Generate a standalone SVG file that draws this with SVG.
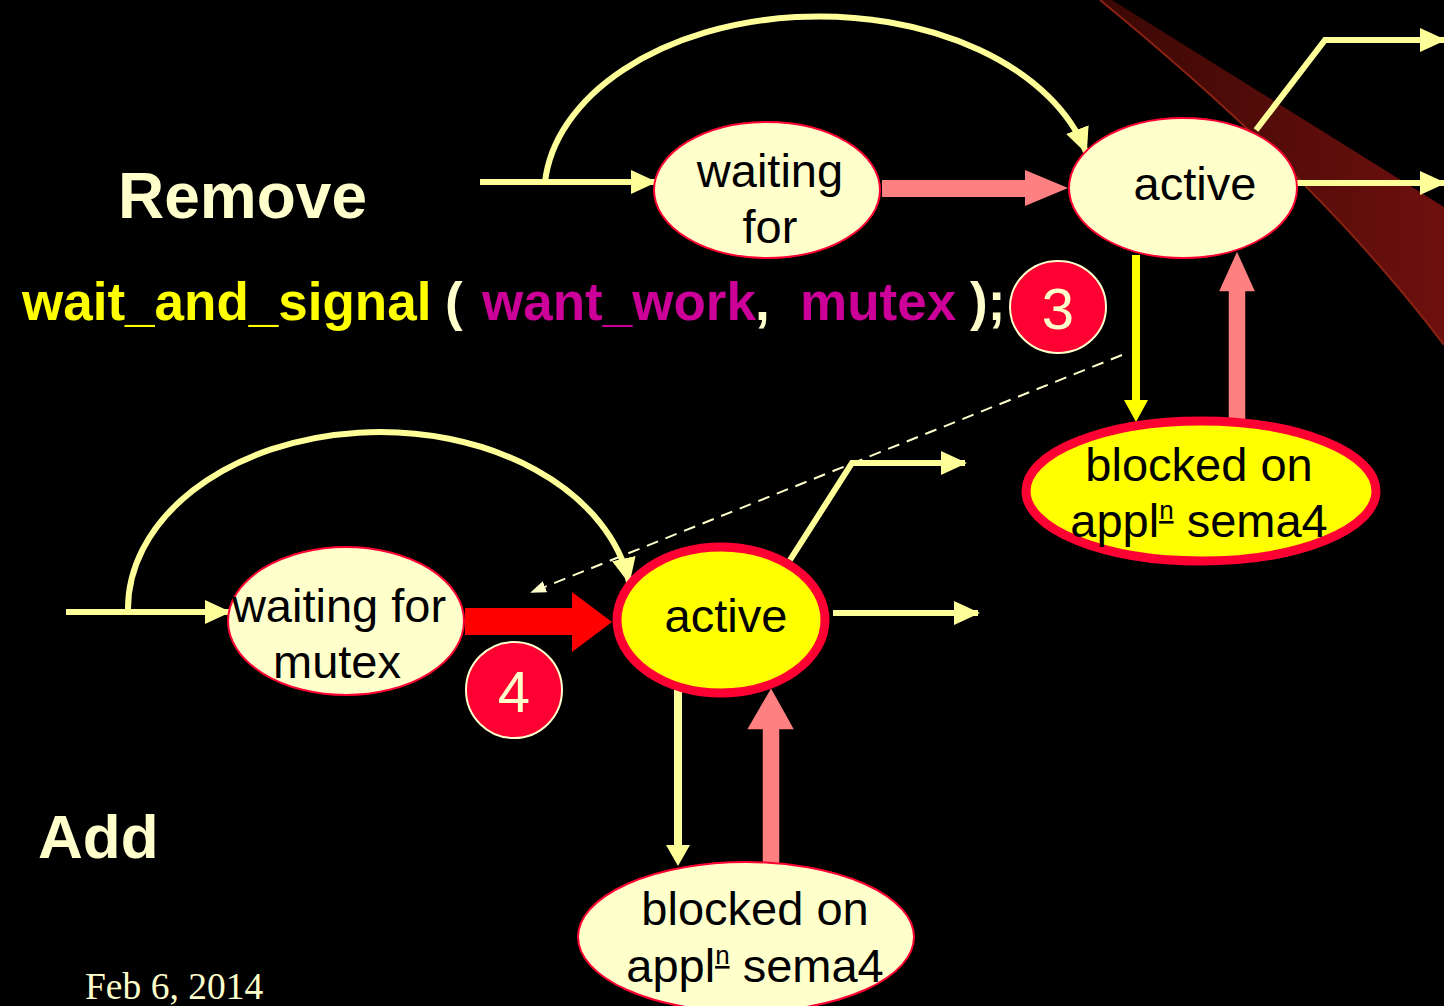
<svg xmlns="http://www.w3.org/2000/svg" width="1444" height="1006" viewBox="0 0 1444 1006">
<defs>
<linearGradient id="swoosh" x1="1100" y1="0" x2="1444" y2="0" gradientUnits="userSpaceOnUse">
<stop offset="0" stop-color="#3a0804"/>
<stop offset="1" stop-color="#6e100e"/>
</linearGradient>
<marker id="ah" markerUnits="userSpaceOnUse" markerWidth="26" markerHeight="26" viewBox="0 0 26 26" refX="24" refY="13" orient="auto">
<path d="M0,1 L26,13 L0,25 Z" fill="#ffff99"/>
</marker>
<marker id="ahs" markerUnits="userSpaceOnUse" markerWidth="16" markerHeight="16" viewBox="0 0 16 16" refX="14" refY="8" orient="auto">
<path d="M0,2 L16,8 L0,14 Z" fill="#ffffcc"/>
</marker>
</defs>
<style>
.ln{fill:none;stroke:#ffff99;stroke-width:6}
.lnb{fill:none;stroke:#ffff99;stroke-width:6;marker-end:url(#ah)}
.lt{fill:#ffffcc;stroke:#ff0033;stroke-width:2}
.hv{fill:#ffff00;stroke:#ff0033;stroke-width:9}
.nt{font-family:"Liberation Sans",Arial,sans-serif;font-size:47px;fill:#000;text-anchor:middle}
.num{fill:#ff0033;stroke:#ffffcc;stroke-width:2}
.numt{font-family:"Liberation Sans",Arial,sans-serif;font-size:58px;fill:#ffffcc;text-anchor:middle}
.bt{font-family:"Liberation Sans",Arial,sans-serif;font-weight:bold}
</style>
<rect width="1444" height="1006" fill="#000"/>
<g id="swoosh-deco">
<path d="M1100,0 L1112,0 L1444,207 L1444,345 Q1320,180 1100,0 Z" fill="url(#swoosh)"/>
<path d="M1444,345 Q1320,180 1100,0" fill="none" stroke="#8a2214" stroke-width="2"/>
</g>
<g id="connectors">
<path class="lnb" d="M480,182 L655,182"/>
<path class="lnb" d="M545,182 A275,179 0 0 1 1086,152"/>
<polygon points="882,180 1025,180 1025,170 1068,188 1025,206 1025,197 882,197" fill="#ff8080"/>
<path class="lnb" d="M1297,183 L1444,183"/>
<path class="lnb" d="M1256,130 L1325,40 L1444,40"/>
<line x1="1136" y1="255" x2="1136" y2="402" stroke="#ffff00" stroke-width="8"/>
<polygon points="1124,400 1148,400 1136,422" fill="#ffff00"/>
<polygon points="1228,420 1228,292 1218,292 1237,250 1256,292 1246,292 1246,420" fill="#ff8080" stroke="#000" stroke-width="1.5"/>
<path d="M1122,355 L532,592" fill="none" stroke="#ffffcc" stroke-width="2" stroke-dasharray="12,8" marker-end="url(#ahs)"/>
<path class="lnb" d="M66,612 L229,612"/>
<path class="lnb" d="M128,612 A252,177 0 0 1 629,582"/>
<polygon points="465,608 572,608 572,592 612,622 572,652 572,635 465,635" fill="#ff0000"/>
<path class="lnb" d="M833,613 L978,613"/>
<path class="lnb" d="M790,560 L852,463 L965,463"/>
<line x1="678" y1="687" x2="678" y2="846" stroke="#ffff99" stroke-width="8"/>
<polygon points="666,845 690,845 678,866" fill="#ffff99"/>
<polygon points="762,865 762,730 746,730 771,687 795,730 780,730 780,865" fill="#ff8080" stroke="#000" stroke-width="1.5"/>
</g>
<g id="node-waiting-for">
<ellipse class="lt" cx="767" cy="190" rx="113" ry="68"/>
<text class="nt" x="770" y="187">waiting</text>
<text class="nt" x="770" y="243">for</text>
</g>
<g id="node-active-top">
<ellipse class="lt" cx="1183" cy="188" rx="114" ry="70"/>
<text class="nt" x="1195" y="200">active</text>
</g>
<g id="node-blocked-top">
<ellipse class="hv" cx="1201" cy="491" rx="175" ry="70"/>
<text class="nt" x="1199" y="481">blocked on</text>
<text class="nt" x="1199" y="537">appl<tspan font-size="26" dy="-18" text-decoration="underline">n</tspan><tspan dy="18"> sema4</tspan></text>
</g>
<g id="badge-3">
<ellipse class="num" cx="1058" cy="307" rx="48" ry="46"/>
<text class="numt" x="1058" y="329">3</text>
</g>
<g id="node-waiting-mutex">
<ellipse class="lt" cx="346" cy="621" rx="118" ry="74"/>
<text class="nt" x="339" y="622">waiting for</text>
<text class="nt" x="337" y="678">mutex</text>
</g>
<g id="node-active-bottom">
<ellipse class="hv" cx="721" cy="620" rx="104" ry="73"/>
<text class="nt" x="726" y="632">active</text>
</g>
<g id="badge-4">
<ellipse class="num" cx="514" cy="690" rx="48" ry="48"/>
<text class="numt" x="514" y="712">4</text>
</g>
<g id="node-blocked-bottom">
<ellipse class="lt" cx="746" cy="937" rx="168" ry="75"/>
<text class="nt" x="755" y="925">blocked on</text>
<text class="nt" x="755" y="982">appl<tspan font-size="26" dy="-18" text-decoration="underline">n</tspan><tspan dy="18"> sema4</tspan></text>
</g>
<g id="labels">
<text class="bt" x="118" y="218" font-size="64" fill="#ffffcc">Remove</text>
<text class="bt" x="38" y="858" font-size="62" fill="#ffffcc">Add</text>
<text class="bt" y="320" font-size="53"><tspan x="22" fill="#ffff00">wait_and_signal</tspan><tspan x="445" fill="#ffffcc">(</tspan><tspan x="482" fill="#cc0099">want_work</tspan><tspan x="755" fill="#ffffcc">,</tspan><tspan x="800" fill="#cc0099">mutex</tspan><tspan x="970" fill="#ffffcc">);</tspan></text>
<text x="85" y="999" font-family="Liberation Serif,serif" font-size="37.5" fill="#ffffcc">Feb 6, 2014</text>
</g>
</svg>
